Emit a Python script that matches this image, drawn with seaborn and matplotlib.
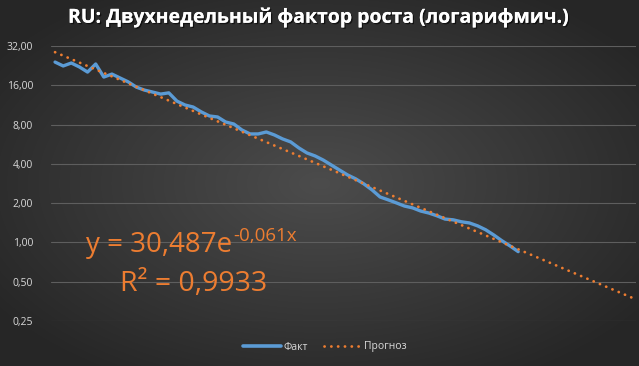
import numpy as np
import pandas as pd
import matplotlib
matplotlib.use("Agg")
import matplotlib.pyplot as plt
import matplotlib.patheffects as pe
from matplotlib.lines import Line2D
from matplotlib.ticker import FixedLocator, FuncFormatter, NullLocator
import seaborn as sns

# ---- data ----
title = "RU: Двухнедельный фактор роста (логарифмич.)"
fact = [24.1, 22.5, 23.7, 22.1, 20.2, 23.3, 18.5, 19.5, 18.2, 17.0,
        15.5, 14.7, 14.2, 13.7, 14.0, 12.1, 11.3, 10.9, 10.0, 9.31,
        9.15, 8.37, 8.08, 7.27, 6.78, 6.78, 7.02, 6.66, 6.21, 5.89,
        5.30, 4.85, 4.60, 4.28, 3.92, 3.59, 3.29, 3.07, 2.81, 2.53,
        2.23, 2.12, 2.01, 1.90, 1.84, 1.74, 1.68, 1.60, 1.51, 1.49,
        1.44, 1.41, 1.34, 1.25, 1.14, 1.03, 0.94, 0.85]
n_periods = 72
trend_a = 30.487
trend_b = -0.061
eq_main = "y = 30,487e"
eq_sup = "-0,061x"
r2_text = "R² = 0,9933"
y_ticks = [0.25, 0.5, 1, 2, 4, 8, 16, 32]
legend_labels = ["Факт", "Прогноз"]

# ---- frames ----
df_fact = pd.DataFrame({"x": np.arange(1, len(fact) + 1), "y": fact})
tx = np.arange(1, n_periods + 1)
df_trend = pd.DataFrame({"x": tx, "y": trend_a * np.exp(trend_b * tx)})

sns.set_theme(style="dark")
plt.rcParams["font.family"] = ["Open Sans", "DejaVu Sans"]

W, H = 639, 366
fig = plt.figure(figsize=(W / 100, H / 100), dpi=100)

# background radial gradient
bg = fig.add_axes([0, 0, 1, 1], zorder=-10)
yy, xx = np.mgrid[0:H, 0:W]
r = np.sqrt(((xx - W * 0.5) / (W * 0.62)) ** 2 + ((yy - H * 0.5) / (H * 0.62)) ** 2)
r = np.clip(r, 0, 1)
c0 = np.array([0x4c, 0x4c, 0x4c]) / 255
c1 = np.array([0x26, 0x26, 0x26]) / 255
img = c0[None, None, :] * (1 - r[..., None]) + c1[None, None, :] * r[..., None]
bg.imshow(img, aspect="auto", extent=[0, 1, 0, 1])
bg.set_axis_off()

ax = fig.add_axes([51 / W, 1 - 321 / H, (636 - 51) / W, (321 - 46) / H])
ax.set_facecolor("none")

sns.lineplot(data=df_trend, x="x", y="y", ax=ax, color="#ED7D31",
             linewidth=2.0, zorder=3)
trend_line = ax.lines[-1]
trend_line.set_linestyle((0, (0.05, 2.4)))
trend_line.set_dash_capstyle("round")
sns.lineplot(data=df_fact, x="x", y="y", ax=ax, color="#5B9BD5",
             linewidth=2.4, zorder=2)

ax.set_yscale("log", base=2)
ax.set_ylim(0.25, 32)
ax.set_xlim(0.5, n_periods + 0.5)
ax.yaxis.set_major_locator(FixedLocator(y_ticks))
ax.yaxis.set_minor_locator(NullLocator())
ax.yaxis.set_major_formatter(FuncFormatter(lambda v, p: f"{v:.2f}".replace(".", ",")))
ax.xaxis.set_major_locator(NullLocator())
ax.set_xlabel("")
ax.set_ylabel("")
ax.grid(axis="y", color="#5e5e5e", linewidth=0.8)
ax.grid(axis="x", visible=False)
for s in ax.spines.values():
    s.set_visible(False)
ax.tick_params(axis="y", length=0, pad=13, labelsize=7.5, labelcolor="#d9d9d9")

# title
fig.text(0.5, 1 - 17.5 / H, title, ha="center", va="center", color="white",
         fontsize=14, fontweight="bold",
         path_effects=[pe.withSimplePatchShadow(offset=(1, -1), shadow_rgbFace="black", alpha=0.6), pe.Normal()])

# equation annotation
orange = "#ED7D31"
t_main = fig.text(86 / W, 1 - 252 / H, eq_main, ha="left", va="baseline",
                  color=orange, fontsize=20)
fig.canvas.draw()
bb = t_main.get_window_extent(renderer=fig.canvas.get_renderer())
fig.text(bb.x1 / W + 1 / W, 1 - 241 / H, eq_sup, ha="left", va="baseline",
         color=orange, fontsize=13.5)
fig.text(120 / W, 1 - 291 / H, r2_text, ha="left", va="baseline",
         color=orange, fontsize=20.5)

# legend
handles = [Line2D([], [], color="#5B9BD5", linewidth=2.6),
           Line2D([], [], color="#ED7D31", linewidth=2.0,
                  linestyle=(0, (0.05, 2.4)), dash_capstyle="round")]
leg = fig.legend(handles, legend_labels, loc="center",
                 bbox_to_anchor=(325 / W, 1 - 347 / H), ncol=2, frameon=False,
                 fontsize=7.5, handlelength=3.6, columnspacing=1.5,
                 handletextpad=0.3)
for t in leg.get_texts():
    t.set_color("#d9d9d9")

fig.savefig("out.png", dpi=100)
